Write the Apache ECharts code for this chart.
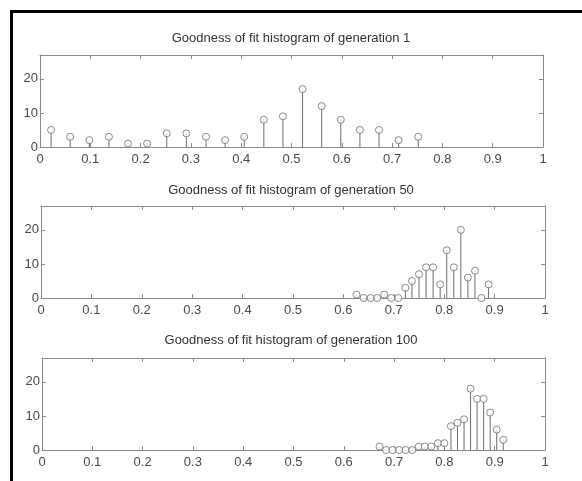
<!DOCTYPE html>
<html>
<head>
<meta charset="utf-8">
<script src="https://cdn.jsdelivr.net/npm/echarts@6/dist/echarts.min.js"></script>
<style>
html, body { margin: 0; padding: 0; background: #fff; }
#main { width: 582px; height: 481px; }
</style>
</head>
<body>
<div id="main"></div>
<script>
// bin centres and counts
var titles = [
    'Goodness of fit histogram of generation 1',
    'Goodness of fit histogram of generation 50',
    'Goodness of fit histogram of generation 100'
];
var xTicks = [0, 0.1, 0.2, 0.3, 0.4, 0.5, 0.6, 0.7, 0.8, 0.9, 1];
var yTicks = [0, 10, 20];

var gen1X = [0.022, 0.060, 0.098, 0.137, 0.175, 0.213, 0.252, 0.291, 0.330, 0.368,
             0.406, 0.445, 0.483, 0.522, 0.560, 0.598, 0.636, 0.674, 0.713, 0.752];
var gen1Y = [5, 3, 2, 3, 1, 1, 4, 4, 3, 2, 3, 8, 9, 17, 12, 8, 5, 5, 2, 3];

var gen50X = [0.626, 0.640, 0.654, 0.667, 0.681, 0.695, 0.709, 0.723, 0.736, 0.750,
              0.764, 0.778, 0.792, 0.805, 0.819, 0.833, 0.847, 0.861, 0.874, 0.888];
var gen50Y = [1, 0, 0, 0, 1, 0, 0, 3, 5, 7, 9, 9, 4, 14, 9, 20, 6, 8, 0, 4];

var gen100X = [0.671, 0.684, 0.697, 0.710, 0.723, 0.736, 0.749, 0.761, 0.774, 0.787,
               0.800, 0.813, 0.826, 0.839, 0.852, 0.865, 0.878, 0.891, 0.904, 0.917];
var gen100Y = [1, 0, 0, 0, 0, 0, 1, 1, 1, 2, 2, 7, 8, 9, 18, 15, 15, 11, 6, 3];

var chart = echarts.init(document.getElementById('main'));

var lineCol = '#8a8a8a';
var textCol = '#4a4a4a';
var stemCol = '#6e6e6e';
var font = 'Liberation Sans, Arial, sans-serif';

var panels = [
    {x: gen1X, y: gen1Y, top: 55, left: 40, right: 39, titleTop: 32},
    {x: gen50X, y: gen50Y, top: 206, left: 41, right: 37, titleTop: 184},
    {x: gen100X, y: gen100Y, top: 358, left: 42, right: 37, titleTop: 334}
];

var grid = [], xAxis = [], yAxis = [], series = [], title = [];

panels.forEach(function(p, i){
    grid.push({left: p.left, right: p.right, top: p.top, height: 92, show: false});
    title.push({
        text: titles[i], left: 'center', top: p.titleTop, padding: 0,
        textStyle: {fontSize: 13, fontWeight: 'normal', color: '#333', fontFamily: font}
    });
    // bottom axis with labels
    xAxis.push({
        type: 'value', gridIndex: i, min: 0, max: 1, interval: 0.1, position: 'bottom',
        axisLine: {onZero: false, lineStyle: {color: lineCol, width: 1}},
        axisTick: {inside: true, length: 4, lineStyle: {color: lineCol}},
        axisLabel: {
            color: textCol, fontSize: 13, fontFamily: font, margin: 6,
            formatter: function(v){ return xTicks.indexOf(Math.round(v * 10) / 10) >= 0 ? String(Math.round(v * 10) / 10) : ''; }
        },
        splitLine: {show: false}
    });
    // top axis, ticks only
    xAxis.push({
        type: 'value', gridIndex: i, min: 0, max: 1, interval: 0.1, position: 'top',
        axisLine: {show: true, onZero: false, lineStyle: {color: lineCol, width: 1}},
        axisTick: {inside: true, length: 4, lineStyle: {color: lineCol}},
        axisLabel: {show: false},
        splitLine: {show: false}
    });
    yAxis.push({
        type: 'value', gridIndex: i, min: 0, max: 27, interval: 10, position: 'left',
        axisLine: {show: true, onZero: false, lineStyle: {color: lineCol, width: 1}},
        axisTick: {show: true, inside: true, length: 4, lineStyle: {color: lineCol}},
        axisLabel: {color: textCol, fontSize: 13, fontFamily: font, margin: 2, showMaxLabel: false,
            formatter: function(v){ return yTicks.indexOf(v) >= 0 ? String(v) : ''; }},
        splitLine: {show: false}
    });
    // right axis, ticks only
    yAxis.push({
        type: 'value', gridIndex: i, min: 0, max: 27, interval: 10, position: 'right',
        axisLine: {show: true, onZero: false, lineStyle: {color: lineCol, width: 1}},
        axisTick: {show: true, inside: true, length: 4, lineStyle: {color: lineCol}},
        axisLabel: {show: false},
        splitLine: {show: false}
    });

    var pts = p.x.map(function(x, k){ return [x, p.y[k]]; });
    series.push({
        type: 'bar', xAxisIndex: i * 2, yAxisIndex: i * 2,
        barWidth: 1, data: pts, silent: true,
        itemStyle: {color: stemCol}
    });
    series.push({
        type: 'scatter', xAxisIndex: i * 2, yAxisIndex: i * 2,
        symbol: 'circle', symbolSize: 7, clip: false, z: 5, data: pts, silent: true,
        itemStyle: {color: '#fff', borderColor: stemCol, borderWidth: 1}
    });
});

chart.setOption({
    backgroundColor: '#fff',
    animation: false,
    title: title,
    grid: grid,
    xAxis: xAxis,
    yAxis: yAxis,
    series: series,
    graphic: [
        {type: 'line', shape: {x1: 10, y1: 11.5, x2: 582, y2: 11.5}, style: {stroke: '#000', lineWidth: 3}},
        {type: 'line', shape: {x1: 11.5, y1: 10, x2: 11.5, y2: 481}, style: {stroke: '#000', lineWidth: 3}}
    ]
});
</script>
</body>
</html>
